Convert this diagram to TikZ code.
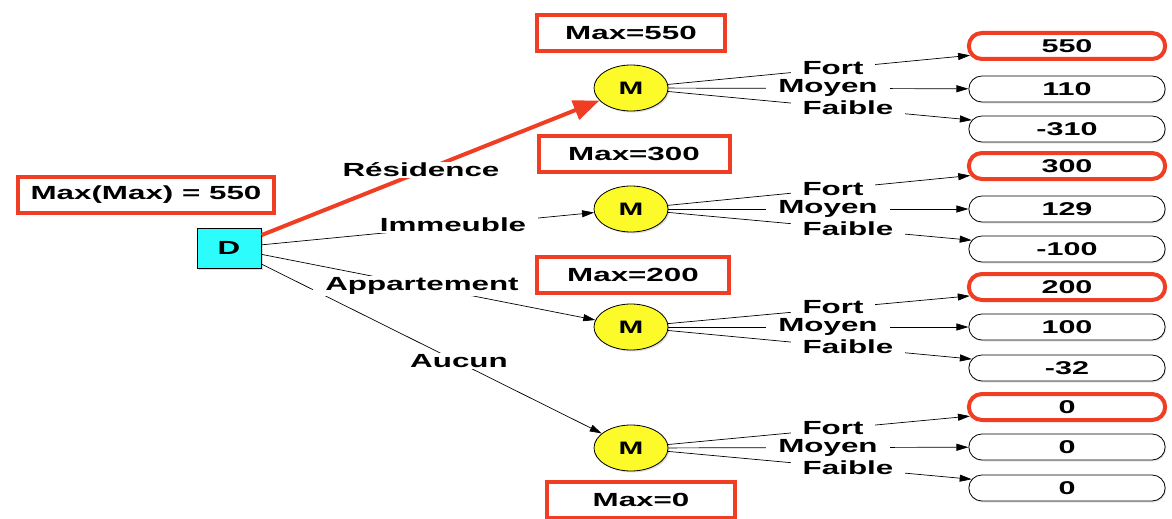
\documentclass[tikz,border=0pt]{standalone}
\usepackage{fontspec}
\newfontfamily\diagfont[FakeStretch=1.65]{Liberation Sans}
\usetikzlibrary{arrows.meta,shapes.geometric,shapes.misc,shadows}
\definecolor{maxred}{RGB}{240,62,36}
\definecolor{nodecyan}{RGB}{45,252,252}
\definecolor{nodeyellow}{RGB}{252,250,40}

\begin{document}
\begin{tikzpicture}[x=1pt, y=-1pt,
    every node/.style={font=\diagfont\bfseries\fontsize{19}{20}\selectfont},
    maxbox/.style={draw=maxred, line width=4pt, fill=white, minimum height=36pt,
        inner xsep=8pt, drop shadow={opacity=0.25, shadow xshift=1.5pt, shadow yshift=-2pt}},
    decision/.style={draw, line width=1pt, fill=nodecyan, minimum width=64pt, minimum height=40pt,
        font=\diagfont\bfseries\fontsize{19}{20}\selectfont,
        drop shadow={opacity=0.3, shadow xshift=2pt, shadow yshift=-2pt}},
    chance/.style={ellipse, draw, line width=0.8pt, fill=nodeyellow, minimum width=74pt, minimum height=46pt,
        inner sep=0pt, font=\diagfont\bfseries\fontsize{18}{18}\selectfont,
        drop shadow={opacity=0.25, shadow xshift=1.5pt, shadow yshift=-1.5pt}},
    payoff/.style={rounded rectangle, draw, line width=0.8pt, fill=white, minimum width=203pt,
        minimum height=26pt, inner ysep=0pt, font=\diagfont\bfseries\fontsize{18.5}{18}\selectfont,
        drop shadow={opacity=0.2, shadow xshift=1pt, shadow yshift=-1.5pt}},
    best/.style={draw=maxred, line width=4pt},
    lbl/.style={fill=white, inner xsep=12pt, inner ysep=1pt},
    arr/.style={-{Triangle[length=12pt,width=7pt]}, line width=0.7pt},
    redarrow/.style={-{Triangle[length=26pt,width=20pt]}, draw=maxred, line width=4pt}]

    \useasboundingbox (0,0) rectangle (1172,519);

    % decision and chance nodes
    \node[decision] (d) at (229,248) {D};
    \node[chance] (m1) at (631,88) {M};
    \node[chance] (m2) at (631,209) {M};
    \node[chance] (m3) at (631,327) {M};
    \node[chance] (m4) at (631,448) {M};

    % payoffs
    \node[payoff, best] (v11) at (1067,46) {550};
    \node[payoff] (v12) at (1067,89) {110};
    \node[payoff] (v13) at (1067,129) {-310};
    \node[payoff, best] (v21) at (1067,166) {300};
    \node[payoff] (v22) at (1067,209) {129};
    \node[payoff] (v23) at (1067,249) {-100};
    \node[payoff, best] (v31) at (1067,287) {200};
    \node[payoff] (v32) at (1067,327) {100};
    \node[payoff] (v33) at (1067,368) {-32};
    \node[payoff, best] (v41) at (1067,407) {0};
    \node[payoff] (v42) at (1067,447) {0};
    \node[payoff] (v43) at (1067,488) {0};

    % edges
    \draw[redarrow] (d) -- (m1);
    \draw[arr] (d) -- (m2);
    \draw[arr] (d) -- (m3);
    \draw[arr] (d) -- (m4);
    \foreach \i in {1,...,4} {
        \draw[arr] (m\i) -- (v\i1);
        \draw[arr] (m\i) -- (v\i2);
        \draw[arr] (m\i) -- (v\i3);
    }

    % edge labels
    \node[lbl] (lres) at (421,170) {Résidence};
    \node[lbl] (limm) at (453,225) {Immeuble};
    \node[lbl] (lapp) at (422,286) {Appartement};
    \node[lbl] (lauc) at (459,361) {Aucun};
    \foreach \i/\y in {1/88,2/209,3/327,4/448} {
        \node[lbl] (fort\i) at (833,\y-20) {Fort};
        \node[lbl] (moyen\i) at (828,\y) {Moyen};
        \node[lbl] (faible\i) at (848,\y+20) {Faible};
    }

    % max boxes
    \node[maxbox, minimum width=256pt] (maxmax) at (146,195) {Max(Max) = 550};
    \node[maxbox, minimum width=188pt] (max1) at (631,33) {Max=550};
    \node[maxbox, minimum width=191pt] (max2) at (634,154) {Max=300};
    \node[maxbox, minimum width=192pt] (max3) at (633,275) {Max=200};
    \node[maxbox, minimum width=188pt] (max4) at (641,500) {Max=0};
\end{tikzpicture}
\end{document}
